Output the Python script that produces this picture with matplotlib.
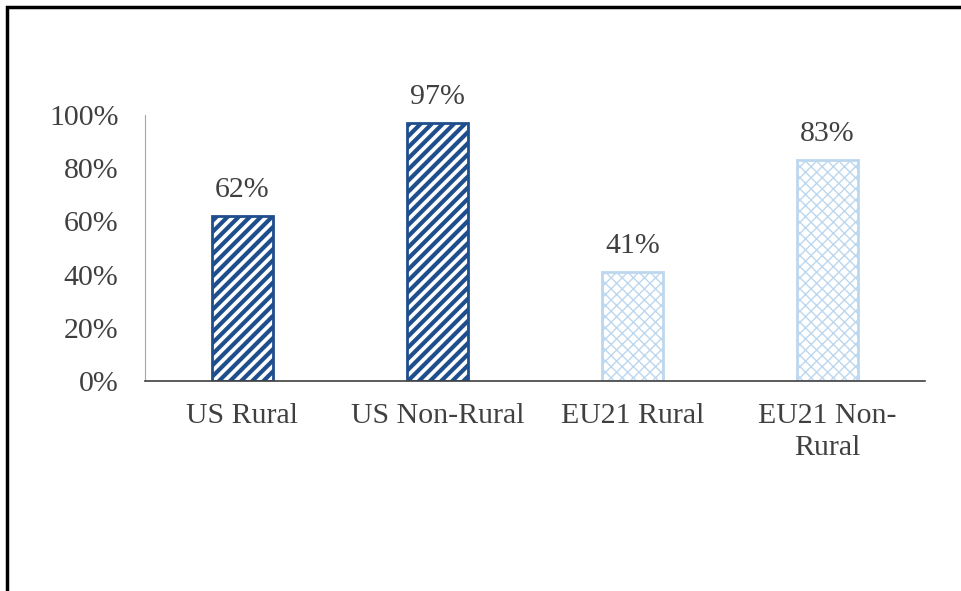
import matplotlib.pyplot as plt
import matplotlib.patches as mpatches

plt.rcParams['font.family'] = ['Liberation Serif', 'DejaVu Serif']

categories = ["US Rural", "US Non-Rural", "EU21 Rural", "EU21 Non-\nRural"]
values = [62, 97, 41, 83]
labels = ["62%", "97%", "41%", "83%"]
edge_colors = ["#1F4E8C", "#1F4E8C", "#BDD7EE", "#BDD7EE"]
hatches = ["///", "///", "xxx", "xxx"]

fig = plt.figure(figsize=(9.61, 5.91), dpi=100)
ax = fig.add_axes([145 / 961, 1 - 381 / 591, 780 / 961, 266 / 591])

# outer frame: only top and left edges visible
fig.add_artist(mpatches.Rectangle((7 / 961, -0.1), 1.2, 1 - 7 / 591 + 0.1,
                                  transform=fig.transFigure, fill=False,
                                  edgecolor="black", linewidth=2.5))

x = range(len(categories))
for i in x:
    if i < 2:
        plt.rcParams['hatch.linewidth'] = 3.0
    else:
        plt.rcParams['hatch.linewidth'] = 1.0
    ax.bar(i, values[i], width=0.31, facecolor="white",
           edgecolor=edge_colors[i], hatch=hatches[i], linewidth=2)
    ax.text(i, values[i] + 5, labels[i], ha="center", va="bottom",
            fontsize=21.5, color="#404040")

ax.set_xlim(-0.5, 3.5)
ax.set_ylim(0, 100)
ax.set_yticks([0, 20, 40, 60, 80, 100])
ax.set_yticklabels([f"{v}%" for v in [0, 20, 40, 60, 80, 100]])
ax.set_xticks(list(x))
ax.set_xticklabels(categories, linespacing=1.3)
ax.tick_params(axis="both", length=0, labelsize=21.5, labelcolor="#404040")
ax.tick_params(axis="x", pad=16)
ax.tick_params(axis="y", pad=19)

for s in ["top", "right"]:
    ax.spines[s].set_visible(False)
ax.spines["left"].set_color("#A6A6A6")
ax.spines["bottom"].set_color("#404040")
ax.spines["bottom"].set_linewidth(1.2)

fig.savefig("out.png", dpi=100)
